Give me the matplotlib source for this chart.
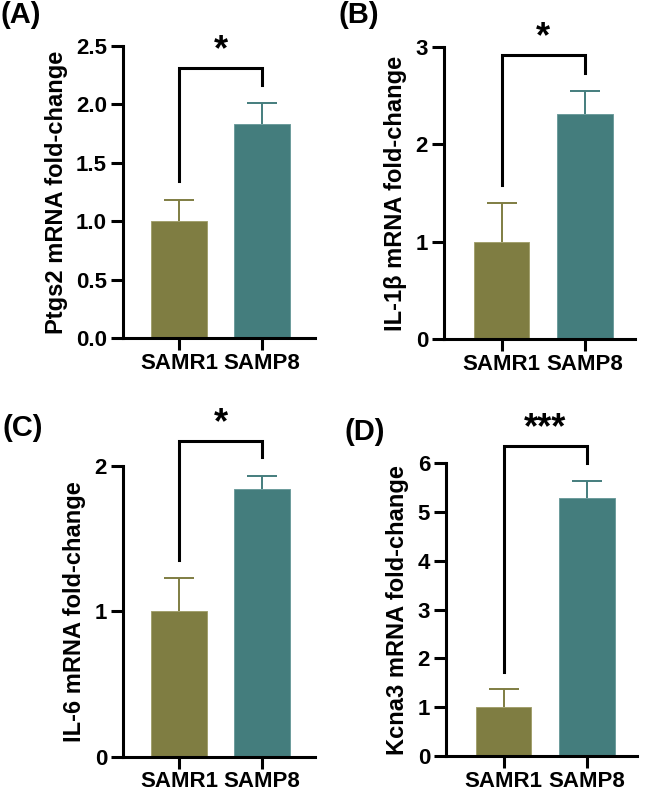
import matplotlib
matplotlib.use("Agg")
import matplotlib.pyplot as plt

plt.rcParams['font.family'] = ['Liberation Sans', 'DejaVu Sans']
plt.rcParams['font.weight'] = 'bold'

groups = ['SAMR1', 'SAMP8']
bar_colors = ['#7f7d42', '#447d7d']
edge_colors = ['#a3a16e', '#6d9c9c']

ptgs2_mean = [1.0, 1.83]
ptgs2_err = [0.18, 0.18]
il1b_mean = [1.0, 2.31]
il1b_err = [0.40, 0.24]
il6_mean = [1.0, 1.84]
il6_err = [0.23, 0.09]
kcna3_mean = [1.0, 5.28]
kcna3_err = [0.37, 0.35]

W, H = 645, 795


def px_axes(fig, left, right, top, bottom):
    return fig.add_axes([left / W, 1 - bottom / H, (right - left) / W, (bottom - top) / H])


def draw_panel(ax, means, errs, ylabel, ylim, yticks, ticklabels, bracket, stars, xlim):
    x = [0, 1]
    for i in range(2):
        ax.bar(x[i], means[i], width=0.67, color=bar_colors[i], edgecolor=edge_colors[i], linewidth=0.7, zorder=2)
        eb = ax.errorbar(x[i], means[i], yerr=[[0], [errs[i]]], fmt='none', ecolor=bar_colors[i],
                         elinewidth=1.4, capsize=11, capthick=1.4, zorder=1)
        # only the upper cap, like the original
        eb[1][0].set_visible(False)
    ax.set_xlim(*xlim)
    ax.set_ylim(*ylim)
    ax.set_yticks(yticks)
    ax.set_yticklabels(ticklabels)
    ax.set_xticks(x)
    ax.set_xticklabels(groups)
    ax.spines['top'].set_visible(False)
    ax.spines['right'].set_visible(False)
    for s in ['left', 'bottom']:
        ax.spines[s].set_linewidth(2.2)
    ax.tick_params(axis='both', width=2.2, length=8.5, labelsize=16)
    ax.tick_params(axis='y', pad=3)
    ax.tick_params(axis='x', pad=2)
    ax.set_ylabel(ylabel, fontsize=17, fontweight='bold', labelpad=6)
    for lbl in ax.get_xticklabels() + ax.get_yticklabels():
        lbl.set_fontweight('bold')
    lb, top, rb = bracket
    ax.plot([0, 0, 1, 1], [lb, top, top, rb], color='black', lw=2.2, clip_on=False,
            solid_joinstyle='miter', zorder=3)
    ax.annotate(stars, xy=(0.5, top), xytext=(0, 0), textcoords='offset points',
                ha='center', va='bottom', fontsize=26, fontweight='bold', annotation_clip=False)


fig = plt.figure(figsize=(6.45, 7.95), dpi=100)

axA = px_axes(fig, 123, 315, 46, 338)
draw_panel(axA, ptgs2_mean, ptgs2_err, 'Ptgs2 mRNA fold-change', (0, 2.5),
           [0, 0.5, 1.0, 1.5, 2.0, 2.5], ['0.0', '0.5', '1.0', '1.5', '2.0', '2.5'],
           (1.34, 2.31, 2.17), '*', (-0.675, 1.64))

axB = px_axes(fig, 444, 635, 46.7, 339.3)
draw_panel(axB, il1b_mean, il1b_err, 'IL-1β mRNA fold-change', (0, 3),
           [0, 1, 2, 3], ['0', '1', '2', '3'],
           (1.58, 2.91, 2.73), '*', (-0.69, 1.6))

axC = px_axes(fig, 123, 315, 465.7, 756.7)
draw_panel(axC, il6_mean, il6_err, 'IL-6 mRNA fold-change', (0, 2),
           [0, 1, 2], ['0', '1', '2'],
           (1.35, 2.17, 2.06), '*', (-0.675, 1.64))

axD = px_axes(fig, 446, 637, 463.3, 756)
draw_panel(axD, kcna3_mean, kcna3_err, 'Kcna3 mRNA fold-change', (0, 6),
           [0, 1, 2, 3, 4, 5, 6], ['0', '1', '2', '3', '4', '5', '6'],
           (1.73, 6.36, 6.01), '***', (-0.69, 1.6))

fig.text(1 / W, 1 - 15 / H, '(A)', fontsize=21, fontweight='bold', va='center', ha='left')
fig.text(339 / W, 1 - 15 / H, '(B)', fontsize=21, fontweight='bold', va='center', ha='left')
fig.text(2 / W, 1 - 428 / H, '(C)', fontsize=21, fontweight='bold', va='center', ha='left')
fig.text(344 / W, 1 - 432 / H, '(D)', fontsize=21, fontweight='bold', va='center', ha='left')

fig.savefig('out.png', dpi=100, facecolor='white')
